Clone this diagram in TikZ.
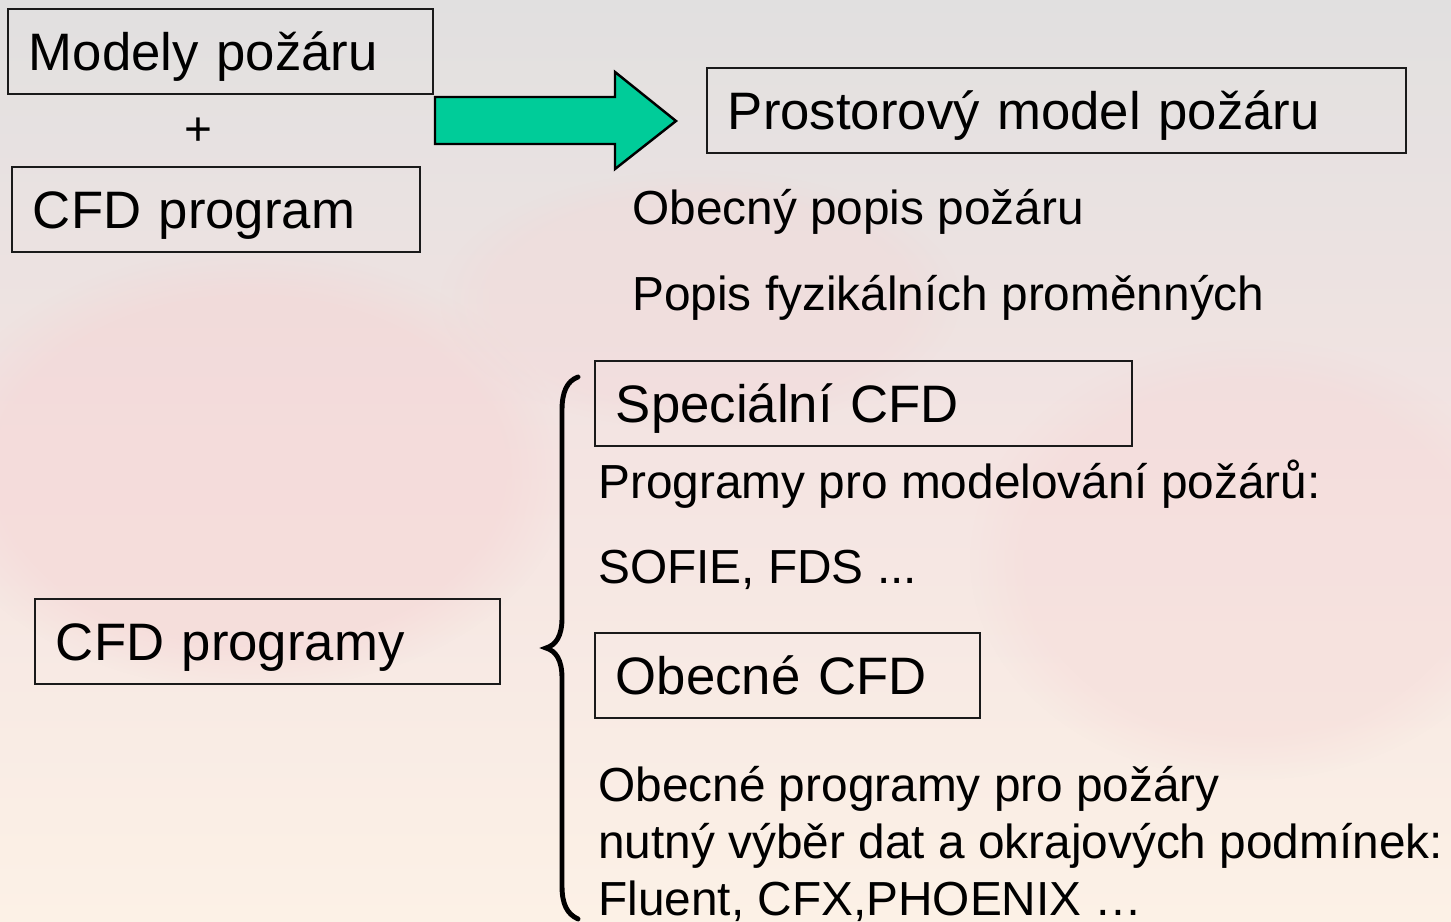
\documentclass[tikz,border=0pt]{standalone}
\usepackage{fontspec}
\setmainfont{Liberation Sans}
\usepackage{tikz}
\usetikzlibrary{fadings}
\definecolor{bgtop}{HTML}{E1E0E0}
\definecolor{bgmid}{HTML}{F4E4E2}
\definecolor{bgbot}{HTML}{FCF1E6}
\definecolor{blush}{HTML}{F5D5D5}
\definecolor{frame}{HTML}{1A1A1A}
\definecolor{mint}{HTML}{00CC99}
\tikzset{
  box/.style={draw=frame, line width=1.1pt, anchor=north west, inner xsep=0.42cm,
    minimum height=1.7cm, text height=21.5pt, text depth=0pt, align=left,
    font=\fontsize{30}{36}\selectfont},
  body/.style={anchor=base west, inner sep=0pt, font=\fontsize{27.2}{33}\selectfont},
  bigarrow/.style={fill=mint, draw=black, line width=1.4pt, line join=miter},
  brace/.style={draw=black, line width=2.8pt, line cap=round},
  blob/.style={fill=blush, path fading=circle with fuzzy edge 20 percent}
}
\begin{document}
\begin{tikzpicture}[x=0.02cm, y=-0.02cm]
  \useasboundingbox (0,0) rectangle (1451,922);

  % background
  \shade[top color=bgtop, bottom color=bgbot, middle color=bgmid] (0,0) rectangle (1451,922);
  \fill[blob, opacity=0.5] (250,470) ellipse (320 and 220);
  \fill[blob, opacity=0.35] (1250,560) ellipse (280 and 220);
  \fill[blob, opacity=0.3] (700,300) ellipse (260 and 130);

  % boxes
  \node[box, text width=7.66cm] (modely) at (7,8) {Modely požáru};
  \node[box, text width=7.32cm] (cfdprog) at (11,166) {CFD program};
  \node[box, text width=13.14cm] (prostor) at (706,67) {Prostorový model požáru};
  \node[box, text width=9.9cm] (special) at (594,360) {Speciální CFD};
  \node[box, text width=6.86cm] (obecne) at (594,632) {Obecné CFD};
  \node[box, text width=8.46cm] (cfdprogs) at (34,598) {CFD programy};

  \node[body, anchor=base] (plus) at (198,146) {+};

  % green arrow
  \draw[bigarrow] (435,97) -- (615,97) -- (615,72) -- (676,121) -- (615,169)
    -- (615,144) -- (435,144) -- cycle;

  % texts
  \node[body] (popis) at (632,225) {Obecný popis požáru};
  \node[body] (fyzik) at (632,311) {Popis fyzikálních proměnných};
  \node[body] (modprog) at (598,498) {Programy pro modelování požárů:};
  \node[body] (sofie) at (598,583) {SOFIE, FDS ...};
  \node[body] (gen1) at (598,801) {Obecné programy pro požáry};
  \node[body] (gen2) at (598,858) {nutný výběr dat a okrajových podmínek:};
  \node[body] (gen3) at (598,915) {Fluent, CFX,PHOENIX …};

  % brace
  \draw[brace] (578,377) .. controls (567,381) and (562,392) .. (562,410) -- (562,618)
    .. controls (562,636) and (556,645) .. (546,648)
    .. controls (556,651) and (562,660) .. (562,678) -- (562,886)
    .. controls (562,904) and (567,914) .. (578,919);
\end{tikzpicture}
\end{document}
